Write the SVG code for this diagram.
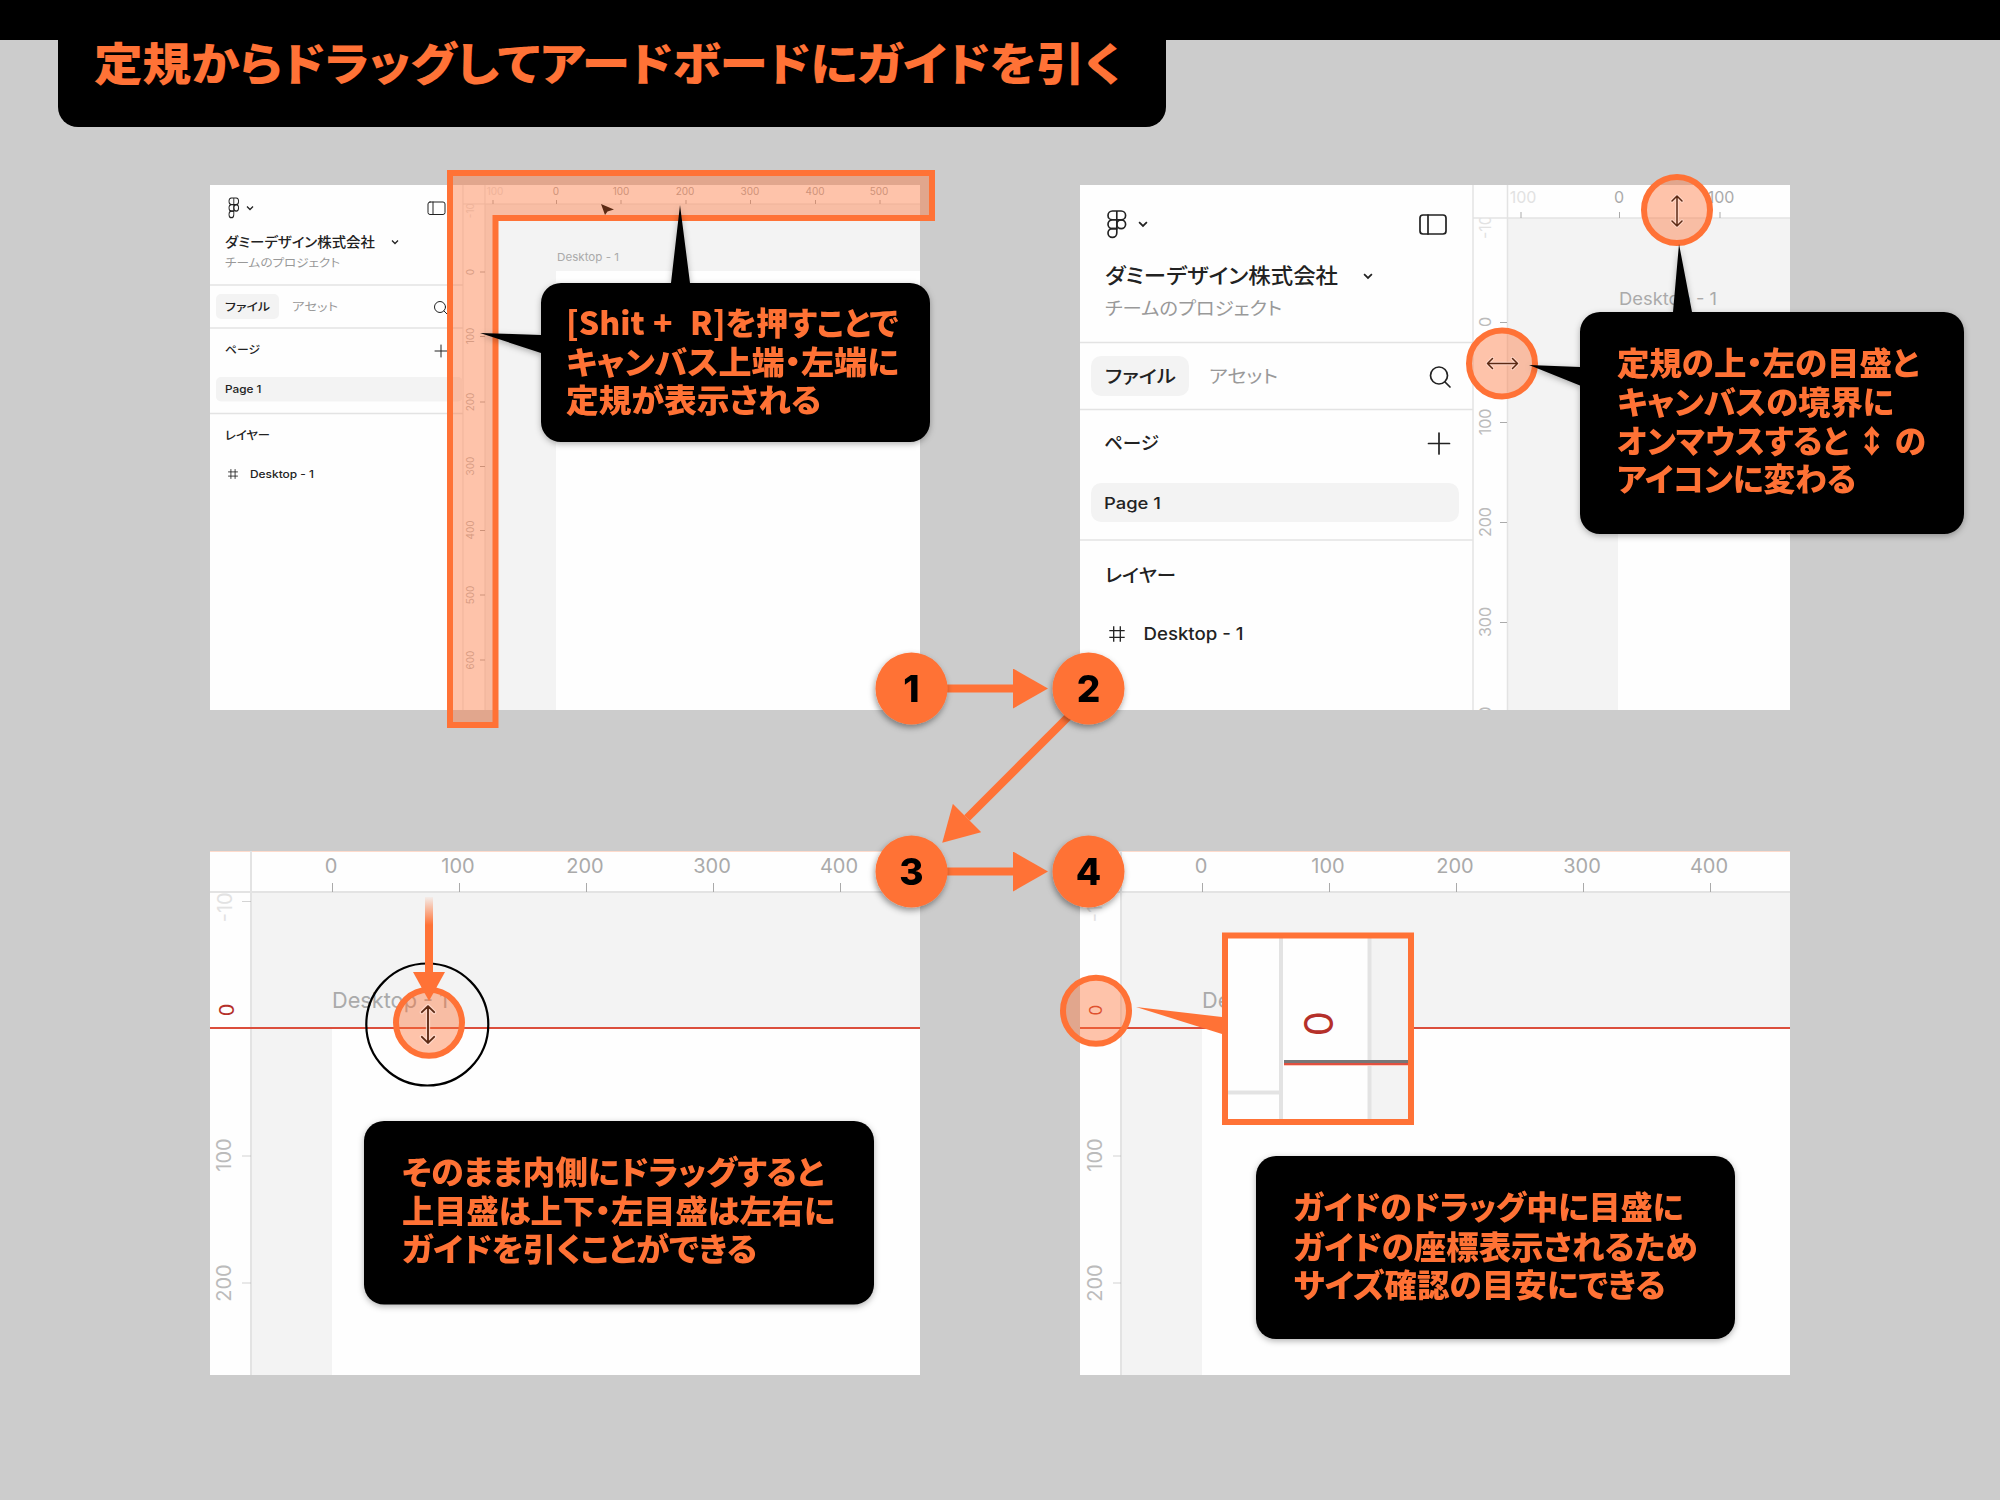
<svg xmlns="http://www.w3.org/2000/svg" xmlns:xlink="http://www.w3.org/1999/xlink" width="2000" height="1500" viewBox="0 0 2000 1500">
<style>
text{font-family:Inter,"Noto Sans CJK JP",sans-serif}
.c{font-family:"Noto Sans CJK JP",sans-serif;font-size:32px;font-weight:900;fill:#ff7236;font-feature-settings:"palt"}
.n{font-family:Inter,sans-serif;font-size:37px;font-weight:800;fill:#000;text-anchor:middle}
.r{fill:#aaa;text-anchor:middle;dominant-baseline:central}
.f{fill:#e2e2e2;text-anchor:middle;dominant-baseline:central}
.v{fill:#bbb;text-anchor:middle;dominant-baseline:central}
.s{fill:#222;dominant-baseline:central;font-feature-settings:"palt"}
.m{fill:#999;dominant-baseline:central;font-feature-settings:"palt"}
.l{stroke:#e3e3e3;fill:none}
.k{stroke:#aaa;stroke-width:1;fill:none}
.i{stroke:#222;fill:none;stroke-linecap:round;stroke-linejoin:round}
.ring{fill:#ff7236;fill-opacity:.42;stroke:#ff7236;stroke-width:6}
.cb{fill:#000}
.conn{stroke:#ff7236;stroke-width:8;fill:none}
.p{fill:#fefefe}
.cv{fill:#f3f3f3}
.g{stroke:#db4e3c;stroke-width:2;fill:none}
</style>
<defs>
<filter id="sh" x="-20%" y="-20%" width="140%" height="140%"><feDropShadow dx="0" dy="2" stdDeviation="3" flood-color="#000" flood-opacity=".3"/></filter>
<filter id="shc" x="-30%" y="-30%" width="160%" height="160%"><feDropShadow dx="-1" dy="3" stdDeviation="3" flood-color="#000" flood-opacity=".4"/></filter>
<marker id="ah" markerUnits="userSpaceOnUse" viewBox="0 0 35 40" refX="0" refY="20" markerWidth="35" markerHeight="40" orient="auto"><path d="M0 0L35 20L0 40z" fill="#ff7236"/></marker>
<marker id="ahs" markerUnits="userSpaceOnUse" viewBox="0 0 29 32" refX="0" refY="16" markerWidth="29" markerHeight="32" orient="auto"><path d="M0 0L29 16L0 32z" fill="#ff7236"/></marker>
<linearGradient id="fade" gradientUnits="userSpaceOnUse" x1="429" y1="897" x2="429" y2="925"><stop offset="0" stop-color="#ff7236" stop-opacity=".05"/><stop offset="1" stop-color="#ff7236"/></linearGradient>
<clipPath id="cp1"><rect x="463" y="204" width="22" height="506"/></clipPath>
<clipPath id="cp2"><rect x="1473" y="218" width="34" height="492"/></clipPath>
<clipPath id="cp3"><rect x="210" y="892" width="41" height="483"/></clipPath>
<clipPath id="cp4"><rect x="1080" y="892" width="41" height="483"/></clipPath>
<g id="logo" fill="none" stroke="#222" stroke-width="1.5"><path d="M8 0H4a4 4 0 0 0 0 8h4zM8 0h4a4 4 0 0 1 0 8H8zM8 8H4a4 4 0 0 0 0 8h4z"/><circle cx="12" cy="12" r="4"/><path d="M4 16h4v4a4 4 0 1 1-4-4z"/></g>
<path id="chev" d="M-3-1.500L0 1.500L3-1.500" fill="none" stroke="#222" stroke-width="1.300"/>
<g id="hash" fill="none" stroke="#222" stroke-width="1.200"><path d="M-3-7V7M3-7V7M-7-3H7M-7 3H7"/></g>
<g id="rz" fill="none" stroke-linecap="round" stroke-linejoin="round"><path d="M0-15V15M-5-10L0-15L5-10M-5 10L0 15L5 10" stroke="#ffdccf" stroke-opacity=".8" stroke-width="3.500"/><path d="M0-15V15M-5-10L0-15L5-10M-5 10L0 15L5 10" stroke="#5c2a14" stroke-width="1.500"/></g>
</defs>
<rect width="2000" height="1500" fill="#ccc"/>

<g id="panel-1">
<rect class="p" x="210" y="185" width="710" height="525"/>
<rect class="cv" x="485" y="204" width="435" height="506"/>
<rect class="p" x="556" y="271" width="364" height="439"/>
<path class="l" d="M463 185V710M485 185V710M463 204H920" stroke-width="1"/>
<path class="l" d="M210 285H463M210 328H463M210 413.500H463" stroke-width="1.500"/>
<use xlink:href="#logo" transform="translate(229 198) scale(.6 .82)"/>
<use xlink:href="#chev" transform="translate(250 208)"/>
<text class="s" x="225" y="242" font-size="13.500" font-weight="500" textLength="150" lengthAdjust="spacingAndGlyphs">ダミーデザイン株式会社</text>
<use xlink:href="#chev" transform="translate(395 242)"/>
<text class="m" x="225" y="263" font-size="11.500" textLength="115" lengthAdjust="spacingAndGlyphs">チームのプロジェクト</text>
<g class="i" stroke-width="1"><rect x="428" y="202" width="17" height="12.500" rx="2"/><path d="M433 202V214.500"/></g>
<rect class="cv" x="216" y="294" width="63" height="25" rx="5"/>
<text class="s" x="225" y="306.500" font-size="11" font-weight="500" textLength="45" lengthAdjust="spacingAndGlyphs">ファイル</text>
<text class="m" x="292" y="306.500" font-size="11" textLength="46" lengthAdjust="spacingAndGlyphs">アセット</text>
<g class="i" stroke-width="1"><circle cx="440" cy="307" r="5.500"/><path d="M444 311L447 314"/></g>
<text class="s" x="225" y="350" font-size="11" font-weight="500" textLength="35" lengthAdjust="spacingAndGlyphs">ページ</text>
<path class="i" d="M441 345V357M435 351H447"/>
<rect class="cv" x="216" y="377" width="247" height="24.500" rx="5"/>
<text class="s" x="225" y="389.500" font-size="10.500" font-weight="500" textLength="36.500" lengthAdjust="spacingAndGlyphs">Page 1</text>
<text class="s" x="225" y="435" font-size="12" font-weight="500" textLength="45" lengthAdjust="spacingAndGlyphs">レイヤー</text>
<use xlink:href="#hash" transform="translate(233 474) scale(.7)"/>
<text class="s" x="250" y="474" font-size="10.500" font-weight="500" textLength="64" lengthAdjust="spacingAndGlyphs">Desktop - 1</text>
<g font-size="10">
<text class="f" x="495" y="191">100</text><text class="r" x="556" y="191">0</text><text class="r" x="621" y="191">100</text><text class="r" x="685" y="191">200</text><text class="r" x="750" y="191">300</text><text class="r" x="815" y="191">400</text><text class="r" x="879" y="191">500</text>
<g clip-path="url(#cp1)"><text class="f" x="470" y="207.500" transform="rotate(-90 470 207.500)">-100</text></g>
<text class="v" transform="rotate(-90 470 272)" x="470" y="272">0</text><text class="v" transform="rotate(-90 470 336)" x="470" y="336">100</text><text class="v" transform="rotate(-90 470 402)" x="470" y="402">200</text><text class="v" transform="rotate(-90 470 466)" x="470" y="466">300</text><text class="v" transform="rotate(-90 470 530)" x="470" y="530">400</text><text class="v" transform="rotate(-90 470 595)" x="470" y="595">500</text><text class="v" transform="rotate(-90 470 660)" x="470" y="660">600</text>
</g>
<path class="k" d="M493 200V204M556.500 200V204M621 200V204M686 200V204M750.500 200V204M815.500 200V204M880 200V204M480 272H485M480 336.500H485M480 402H485M480 466.500H485M480 530.500H485M480 595H485M480 660H485"/>
<text x="557" y="257" font-size="11" fill="#aaa" dominant-baseline="central" textLength="62" lengthAdjust="spacingAndGlyphs">Desktop - 1</text>
<path d="M450 173H932V218H495.500V725H450z" fill="#ff7236" fill-opacity=".42" stroke="#ff7236" stroke-width="6"/>
<path d="M601 204L614 209.500L607.500 211.500L605 215z" fill="#5c2a14"/>
</g>

<g id="panel-2">
<rect class="p" x="1080" y="185" width="710" height="525"/>
<rect class="cv" x="1507" y="218" width="283" height="492"/>
<rect class="p" x="1618" y="312" width="172" height="398"/>
<path class="l" d="M1473 185V710M1507.500 185V710M1473 218H1790" stroke-width="1.500"/>
<path class="l" d="M1080 342.500H1473M1080 409.500H1473M1080 540H1473" stroke-width="1.500"/>
<use xlink:href="#logo" transform="translate(1108 211) scale(1.100)"/>
<use xlink:href="#chev" transform="translate(1143 224) scale(1.300)"/>
<text class="s" x="1105" y="275" font-size="21" font-weight="500" textLength="233" lengthAdjust="spacingAndGlyphs">ダミーデザイン株式会社</text>
<use xlink:href="#chev" transform="translate(1368 276) scale(1.300)"/>
<text class="m" x="1105" y="308" font-size="18" textLength="177" lengthAdjust="spacingAndGlyphs">チームのプロジェクト</text>
<g class="i" stroke-width="1.700"><rect x="1420" y="215" width="26" height="19" rx="3"/><path d="M1428 215V234"/></g>
<rect class="cv" x="1091" y="356" width="98" height="40" rx="10"/>
<text class="s" x="1105" y="376" font-size="18" font-weight="500" textLength="71" lengthAdjust="spacingAndGlyphs">ファイル</text>
<text class="m" x="1209" y="376" font-size="18" textLength="69" lengthAdjust="spacingAndGlyphs">アセット</text>
<g class="i" stroke-width="1.700"><circle cx="1439" cy="375.500" r="8.500"/><path d="M1445 382L1450 387"/></g>
<text class="s" x="1104" y="443" font-size="18" font-weight="500" textLength="55" lengthAdjust="spacingAndGlyphs">ページ</text>
<path class="i" stroke-width="1.700" d="M1439 433V454M1428.500 443.500H1449.500"/>
<rect class="cv" x="1091" y="483" width="368" height="39" rx="10"/>
<text class="s" x="1104" y="503" font-size="16.500" font-weight="500" textLength="57" lengthAdjust="spacingAndGlyphs">Page 1</text>
<text class="s" x="1105" y="574.500" font-size="18.500" font-weight="500" textLength="71" lengthAdjust="spacingAndGlyphs">レイヤー</text>
<use xlink:href="#hash" transform="translate(1117 634) scale(1.100)"/>
<text class="s" x="1143.500" y="634" font-size="17" font-weight="500" textLength="100" lengthAdjust="spacingAndGlyphs">Desktop - 1</text>
<g font-size="16">
<text class="f" x="1523" y="197">100</text><text class="r" x="1619" y="197">0</text><text class="r" x="1721" y="197">100</text>
<g clip-path="url(#cp2)"><text class="f" x="1485" y="222" transform="rotate(-90 1485 222)">-100</text>
<text class="v" transform="rotate(-90 1485 722)" x="1485" y="722">400</text></g>
<text class="v" transform="rotate(-90 1485 322)" x="1485" y="322">0</text><text class="v" transform="rotate(-90 1485 422)" x="1485" y="422">100</text><text class="v" transform="rotate(-90 1485 522)" x="1485" y="522">200</text><text class="v" transform="rotate(-90 1485 622)" x="1485" y="622">300</text>
</g>
<path class="k" d="M1521 212V218M1619.500 212V218M1720 212V218M1500 322.500H1507M1500 422.500H1507M1500 522.500H1507M1500 622.500H1507"/>
<text x="1619" y="299" font-size="17" fill="#aaa" dominant-baseline="central" textLength="98" lengthAdjust="spacingAndGlyphs">Desktop - 1</text>
<circle class="ring" cx="1677" cy="210" r="33"/>
<use xlink:href="#rz" transform="translate(1677 211)"/>
<circle class="ring" cx="1502" cy="363.500" r="33"/>
<use xlink:href="#rz" transform="translate(1502.500 363.500) rotate(90)"/>
</g>

<g id="panel-3">
<rect class="p" x="210" y="851" width="710" height="524"/>
<rect class="cv" x="251" y="892" width="669" height="483"/>
<rect class="p" x="332" y="1029" width="588" height="346"/>
<path d="M210 851.500H920" stroke="#ff7236" stroke-opacity=".25"/>
<path class="l" d="M251 851V1375M210 892H920" stroke-width="2"/>
<g font-size="20">
<text class="r" x="331" y="866">0</text><text class="r" x="458" y="866">100</text><text class="r" x="585" y="866">200</text><text class="r" x="712" y="866">300</text><text class="r" x="839" y="866">400</text>
<g clip-path="url(#cp3)"><text class="f" x="225" y="901" transform="rotate(-90 225 901)">-100</text></g>
<text x="227" y="1010" transform="rotate(-90 227 1010)" fill="#b5302a" text-anchor="middle" dominant-baseline="central">0</text>
<text class="v" x="224" y="1155" transform="rotate(-90 224 1155)">100</text>
<text class="v" x="224" y="1283" transform="rotate(-90 224 1283)">200</text>
</g>
<path class="k" d="M332.500 883V892M459.500 883V892M586.500 883V892M713.500 883V892M840.500 883V892"/>
<path class="k" stroke-opacity=".5" d="M242 901.500H251M242 1156H251M242 1283H251"/>
<text x="332" y="1000" font-size="22" fill="#aaa" dominant-baseline="central" textLength="116" lengthAdjust="spacingAndGlyphs">Desktop - 1</text>
<path class="g" d="M210 1028H920"/>
<circle cx="427.300" cy="1024.500" r="61" fill="none" stroke="#000" stroke-width="2.200"/>
<circle class="ring" cx="429" cy="1022.700" r="33"/>
<use xlink:href="#rz" transform="translate(428 1024.500) scale(1.230)"/>
<line x1="429" y1="897" x2="429" y2="972" stroke="url(#fade)" stroke-width="8" marker-end="url(#ahs)"/>
</g>

<g id="panel-4">
<rect class="p" x="1080" y="851" width="710" height="524"/>
<rect class="cv" x="1121" y="892" width="669" height="483"/>
<rect class="p" x="1202" y="1029" width="588" height="346"/>
<path d="M1080 851.500H1790" stroke="#ff7236" stroke-opacity=".25"/>
<path class="l" d="M1121 851V1375M1080 892H1790" stroke-width="2"/>
<g font-size="20">
<text class="r" x="1201" y="866">0</text><text class="r" x="1328" y="866">100</text><text class="r" x="1455" y="866">200</text><text class="r" x="1582" y="866">300</text><text class="r" x="1709" y="866">400</text>
<g clip-path="url(#cp4)"><text class="f" x="1095" y="901" transform="rotate(-90 1095 901)">-100</text></g>
<text x="1096" y="1010" transform="rotate(-90 1096 1010)" font-size="17" fill="#c93a2a" text-anchor="middle" dominant-baseline="central">0</text>
<text class="v" x="1095" y="1155" transform="rotate(-90 1095 1155)">100</text>
<text class="v" x="1095" y="1283" transform="rotate(-90 1095 1283)">200</text>
</g>
<path class="k" d="M1202.500 883V892M1329.500 883V892M1456.500 883V892M1583.500 883V892M1710.500 883V892"/>
<path class="k" stroke-opacity=".5" d="M1113 1156H1121M1113 1283H1121"/>
<text x="1202" y="1000" font-size="22" fill="#aaa" dominant-baseline="central" textLength="116" lengthAdjust="spacingAndGlyphs">Desktop - 1</text>
<path class="g" d="M1080 1028H1790"/>
<circle class="ring" cx="1096" cy="1010.700" r="33"/>
<path d="M1136 1007L1222 1017V1034z" fill="#ff7236"/>
<g id="magnifier">
<rect x="1225" y="935.500" width="186" height="186.500" fill="#fefefe"/>
<rect x="1369.500" y="935.500" width="41.500" height="186.500" fill="#f3f3f3"/>
<path d="M1281 935.500V1122M1369.500 935.500V1122M1225 1092.500H1279" stroke="#e3e3e3" stroke-width="4"/>
<path d="M1284 1061.500H1408" stroke="#777" stroke-width="3"/><path d="M1284 1064H1408" stroke="#e0503f" stroke-width="2"/><path d="M1284 1065.500H1408" stroke="#ffc8bc" stroke-width="1"/>
<text x="1318.500" y="1023.500" transform="rotate(-90 1318.500 1023.500)" font-size="40" font-weight="400" fill="#b5302a" text-anchor="middle" dominant-baseline="central">0</text>
<rect x="1225" y="935.500" width="186" height="186.500" fill="none" stroke="#ff7236" stroke-width="6"/>
</g>
</g>

<g id="callout-1" filter="url(#sh)">
<path class="cb" d="M680 205L690 283H910a20 20 0 0 1 20 20V422a20 20 0 0 1-20 20H561a20 20 0 0 1-20-20V353L480 333L541 335V303a20 20 0 0 1 20-20H671z"/>
<text class="c" y="335"><tspan x="566">[Shit</tspan><tspan x="653">+</tspan><tspan x="690">R]を押すことで</tspan></text>
<text class="c" x="566" y="374" textLength="333" lengthAdjust="spacingAndGlyphs">キャンバス上端・左端に</text>
<text class="c" x="566" y="412" textLength="255" lengthAdjust="spacingAndGlyphs">定規が表示される</text>
</g>
<g id="callout-2" filter="url(#sh)">
<path class="cb" d="M1679 244L1692 312H1944a20 20 0 0 1 20 20V514a20 20 0 0 1-20 20H1600a20 20 0 0 1-20-20V385.500L1529 365L1580 367V332a20 20 0 0 1 20-20H1673z"/>
<text class="c" x="1617" y="375" textLength="302" lengthAdjust="spacingAndGlyphs">定規の上・左の目盛と</text>
<text class="c" x="1617" y="414" textLength="277" lengthAdjust="spacingAndGlyphs">キャンバスの境界に</text>
<text class="c" x="1617" y="453" textLength="309" lengthAdjust="spacingAndGlyphs">オンマウスすると ↕ の</text>
<text class="c" x="1617" y="491" textLength="239" lengthAdjust="spacingAndGlyphs">アイコンに変わる</text>
</g>
<g id="callout-3" filter="url(#sh)">
<rect class="cb" x="364" y="1121" width="510" height="183.500" rx="20"/>
<text class="c" x="402" y="1184" textLength="422" lengthAdjust="spacingAndGlyphs">そのまま内側にドラッグすると</text>
<text class="c" x="402" y="1223" textLength="433" lengthAdjust="spacingAndGlyphs">上目盛は上下・左目盛は左右に</text>
<text class="c" x="402" y="1261" textLength="355" lengthAdjust="spacingAndGlyphs">ガイドを引くことができる</text>
</g>
<g id="callout-4" filter="url(#sh)">
<rect class="cb" x="1256" y="1156" width="479" height="183" rx="20"/>
<text class="c" x="1293.500" y="1219" textLength="390" lengthAdjust="spacingAndGlyphs">ガイドのドラッグ中に目盛に</text>
<text class="c" x="1293.500" y="1258.500" textLength="404" lengthAdjust="spacingAndGlyphs">ガイドの座標表示されるため</text>
<text class="c" x="1293.500" y="1297" textLength="372" lengthAdjust="spacingAndGlyphs">サイズ確認の目安にできる</text>
</g>

<g id="connectors">
<line class="conn" x1="945" y1="688.500" x2="1013" y2="688.500" marker-end="url(#ah)"/>
<line class="conn" x1="1072" y1="713" x2="967" y2="818" marker-end="url(#ah)"/>
<line class="conn" x1="945" y1="871.500" x2="1013" y2="871.500" marker-end="url(#ah)"/>
</g>

<g id="node-1" filter="url(#shc)"><circle cx="911.500" cy="688.500" r="36" fill="#ff7236"/><text class="n" x="911.500" y="702">1</text></g>
<g id="node-2" filter="url(#shc)"><circle cx="1088.500" cy="688.500" r="36" fill="#ff7236"/><text class="n" x="1088.500" y="702">2</text></g>
<g id="node-3" filter="url(#shc)"><circle cx="911.500" cy="871.500" r="36" fill="#ff7236"/><text class="n" x="911.500" y="885">3</text></g>
<g id="node-4" filter="url(#shc)"><circle cx="1088.500" cy="871.500" r="36" fill="#ff7236"/><text class="n" x="1088.500" y="885">4</text></g>

<g id="title">
<rect width="2000" height="40" fill="#000"/>
<path d="M58 30H1166V107a20 20 0 0 1-20 20H78a20 20 0 0 1-20-20z" fill="#000"/>
<text x="94" y="81" font-size="45" font-weight="900" fill="#ff7236" style="font-family:'Noto Sans CJK JP',sans-serif;font-feature-settings:'palt'" textLength="1027" lengthAdjust="spacingAndGlyphs">定規からドラッグしてアードボードにガイドを引く</text>
</g>
</svg>
